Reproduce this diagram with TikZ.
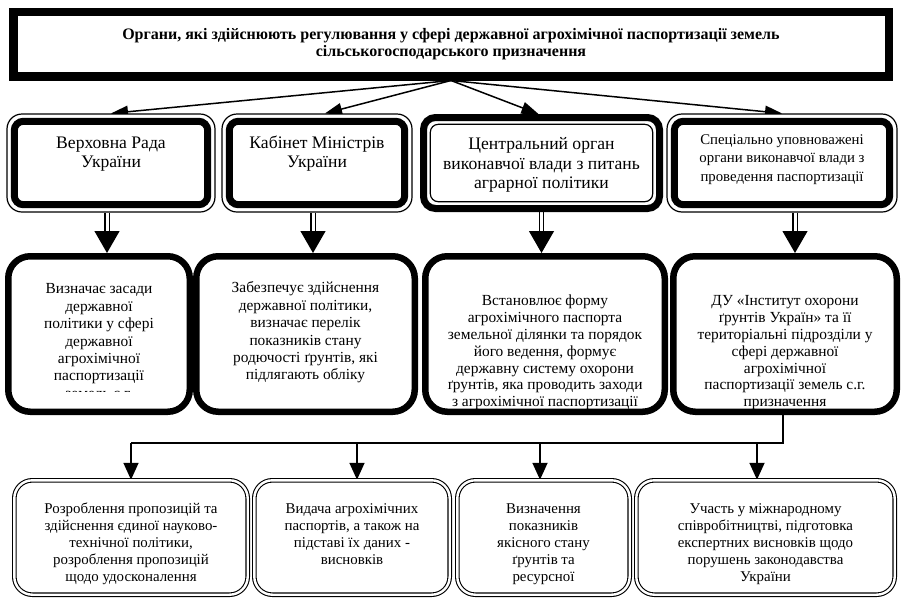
\documentclass[tikz,border=0pt]{standalone}
\usepackage{fontspec}
\setmainfont{Liberation Serif}
\usetikzlibrary{arrows.meta}
\pgfdeclarelayer{bg}
\pgfsetlayers{bg,main}
\tikzset{
  topbox/.style={draw, line width=8.5pt, fill=white, inner sep=0pt,
    minimum width=875.5pt, minimum height=64.5pt, align=center,
    font=\bfseries\fontsize{16}{17}\selectfont},
  rowone/.style={draw, line width=1.2pt, fill=white, rounded corners=15pt, inner sep=0pt,
    minimum height=98pt,
    path picture={\draw[line width=7pt, rounded corners=9pt]
      ([shift={(7.3pt,-7.3pt)}]path picture bounding box.north west) rectangle
      ([shift={(-7.3pt,7.3pt)}]path picture bounding box.south east);}},
  rowonealt/.style={draw, line width=7pt, fill=white, rounded corners=12pt, inner sep=0pt,
    minimum height=91pt,
    path picture={\draw[line width=1.2pt, rounded corners=8pt]
      ([shift={(6.8pt,-6.8pt)}]path picture bounding box.north west) rectangle
      ([shift={(-6.8pt,6.8pt)}]path picture bounding box.south east);}},
  rowtwo/.style={draw, line width=6.5pt, fill=white, rounded corners=22pt, inner sep=0pt,
    minimum height=155.5pt},
  rowthree/.style={draw, double, double distance=2.4pt, line width=1.1pt, fill=white,
    rounded corners=18pt, inner sep=0pt, minimum height=114.4pt},
  txtone/.style={anchor=north, align=center, inner sep=0pt, font=\fontsize{17.6}{19.5}\selectfont},
  txtonesmall/.style={anchor=north, align=center, inner sep=0pt, font=\fontsize{14.8}{18.5}\selectfont},
  txttwo/.style={anchor=north, align=center, inner sep=0pt, font=\fontsize{15.4}{17.4}\selectfont},
  txttwotight/.style={anchor=north, align=center, inner sep=0pt, font=\fontsize{15.4}{16.8}\selectfont},
  txtthree/.style={anchor=north, align=center, inner sep=0pt, font=\fontsize{14.9}{17}\selectfont},
  thinarrow/.style={line width=1.5pt, -{Triangle[length=17pt,width=12pt]}},
  dblarrow/.style={double, double distance=3pt, line width=1.2pt, -{Triangle[length=22pt,width=25pt]}},
  busline/.style={line width=1.8pt},
  busarrow/.style={line width=1.8pt, -{Triangle[length=17pt,width=15pt]}}
}
\begin{document}
\begin{tikzpicture}[x=1pt, y=-1pt]
\useasboundingbox (0,0) rectangle (902,600);

% top box
\node[topbox] (top) at (451,44) {Органи, які здійснюють регулювання у сфері державної агрохімічної паспортизації земель\\сільськогосподарського призначення};

% row 1
\node[rowone, minimum width=208pt] (b1) at (111,163) {};
\node[rowone, minimum width=190pt] (b2) at (317,163) {};
\node[rowonealt, minimum width=236pt] (b3) at (541.5,163) {};
\node[rowone, minimum width=230pt] (b4) at (782,163) {};
\node[txtone] (t1) at (111,134.5) {\strut Верховна Рада\\України};
\node[txtone] (t2) at (317,134.5) {\strut Кабінет Міністрів\\України};
\node[txtone] (t3) at (541.5,136) {\strut Центральний орган\\виконавчої влади з питань\\аграрної політики};
\node[txtonesmall] (t4) at (782,131) {\strut Спеціально уповноважені\\органи виконавчої влади з\\проведення паспортизації};

% row 2
\node[rowtwo, minimum width=181.5pt] (ca) at (99,334) {};
\node[rowtwo, minimum width=218.5pt] (cb) at (305.5,334) {};
\node[rowtwo, minimum width=239.5pt] (cc) at (545,334) {};
\node[rowtwo, minimum width=223.5pt] (cd) at (785,334) {};
\begin{scope}
\clip (0,260) rectangle (200,391);
\node[txttwo] (ta) at (99,281.5) {\strut Визначає засади\\державної\\політики у сфері\\державної\\агрохімічної\\паспортизації\\земель с.г.};
\end{scope}
\node[txttwo] (tb) at (305.5,280.5) {\strut Забезпечує здійснення\\державної політики,\\визначає перелік\\показників стану\\родючості ґрунтів, які\\підлягають обліку};
\node[txttwotight] (tc) at (545,294) {\strut Встановлює форму\\агрохімічного паспорта\\земельної ділянки та порядок\\його ведення, формує\\державну систему охорони\\ґрунтів, яка проводить заходи\\з агрохімічної паспортизації};
\node[txttwotight] (td) at (785,294) {\strut ДУ «Інститут охорони\\ґрунтів Україн» та її\\територіальні підрозділи у\\сфері державної\\агрохімічної\\паспортизації земель с.г.\\призначення};

% row 3
\node[rowthree, minimum width=233.4pt] (r1) at (131,537.5) {};
\node[rowthree, minimum width=195.4pt] (r2) at (352,537.5) {};
\node[rowthree, minimum width=172.4pt] (r3) at (543.5,537.5) {};
\node[rowthree, minimum width=258.4pt] (r4) at (765.5,537.5) {};
\node[txtthree] (s1) at (131,501.8) {\strut Розроблення пропозицій та\\здійснення єдиної науково-\\технічної політики,\\розроблення пропозицій\\щодо удосконалення};
\node[txtthree] (s2) at (352,501.8) {\strut Видача агрохімічних\\паспортів, а також на\\підставі їх даних -\\висновків};
\node[txtthree] (s3) at (543.5,501.8) {\strut Визначення\\показників\\якісного стану\\ґрунтів та\\ресурсної};
\node[txtthree] (s4) at (765.5,501.8) {\strut Участь у міжнародному\\співробітництві, підготовка\\експертних висновків щодо\\порушень законодавства\\України};

\coordinate (bus) at (0,443);

\begin{pgfonlayer}{bg}
\draw[thinarrow] (top.south) -- (b1.north);
\draw[thinarrow] (top.south) -- ([xshift=8pt]b2.north);
\draw[thinarrow] (top.south) -- ([xshift=-3pt]b3.north);
\draw[thinarrow] (top.south) -- (b4.north);

\draw[dblarrow] ([xshift=-4pt]b1.south) -- ([xshift=-4pt]b1.south |- ca.north);
\draw[dblarrow] ([xshift=-4pt]b2.south) -- ([xshift=-4pt]b2.south |- cb.north);
\draw[dblarrow] (b3.south) -- (b3.south |- cc.north);
\draw[dblarrow] ([xshift=13pt]b4.south) -- ([xshift=13pt]b4.south |- cd.north);

\draw[busline] ([xshift=-2pt]cd.south) -- ([xshift=-2pt]cd.south |- bus) -- (r1.north |- bus);
\draw[busarrow] (r1.north |- bus) -- (r1.north);
\draw[busarrow] ([xshift=5pt]r2.north |- bus) -- ([xshift=5pt]r2.north);
\draw[busarrow] ([xshift=-3.5pt]r3.north |- bus) -- ([xshift=-3.5pt]r3.north);
\draw[busarrow] ([xshift=-8.5pt]r4.north |- bus) -- ([xshift=-8.5pt]r4.north);
\end{pgfonlayer}
\end{tikzpicture}
\end{document}
